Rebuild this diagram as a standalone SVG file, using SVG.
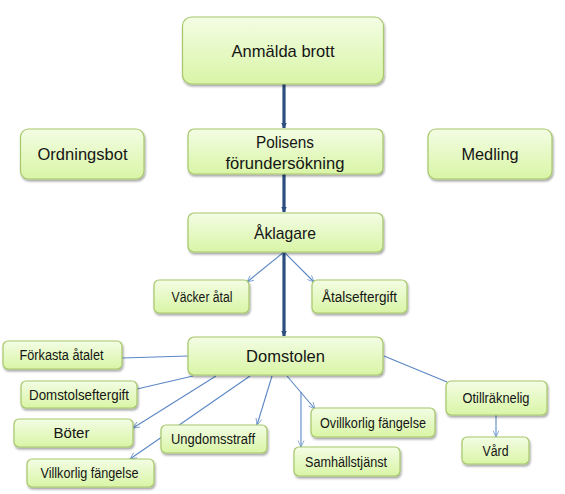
<svg xmlns="http://www.w3.org/2000/svg" width="565" height="494" viewBox="0 0 565 494">
<defs>
<linearGradient id="g" x1="0" y1="0" x2="0" y2="1">
<stop offset="0" stop-color="#f3fde4"/>
<stop offset="1" stop-color="#d9f5a6"/>
</linearGradient>
<filter id="sh" x="-10%" y="-10%" width="125%" height="140%">
<feDropShadow dx="1" dy="2" stdDeviation="1.3" flood-color="#000" flood-opacity="0.35"/>
</filter>
<marker id="ta" viewBox="0 0 6 6" refX="5.5" refY="3" markerWidth="6" markerHeight="6" markerUnits="userSpaceOnUse" orient="auto">
<path d="M0,0 L6,3 L0,6 Z" fill="#2c4d80"/>
</marker>
<marker id="oa" viewBox="0 0 8 8" refX="7.5" refY="4" markerWidth="8" markerHeight="8" markerUnits="userSpaceOnUse" orient="auto">
<path d="M1,1 L7.5,4 L1,7" fill="none" stroke="#6d95cc" stroke-width="0.8"/>
</marker>
</defs>
<style>
.box{fill:url(#g);stroke:#a6c76a;stroke-width:1.2;filter:url(#sh)}
.t{font-family:"Liberation Sans",Arial,sans-serif;fill:#151515;text-anchor:middle}
.L{font-size:17px}
.S{font-size:13.8px}
.thick{stroke:#2c4d80;stroke-width:3.2;fill:none}
.thin{stroke:#5b87c5;stroke-width:1.1;fill:none}
</style>
<g id="connectors">
<line class="thick" x1="284" y1="84" x2="284" y2="128" marker-end="url(#ta)"/>
<line class="thick" x1="284" y1="174" x2="284" y2="212" marker-end="url(#ta)"/>
<line class="thick" x1="284" y1="252" x2="284" y2="336" marker-end="url(#ta)"/>
<line class="thin" x1="284" y1="252" x2="247" y2="282" marker-end="url(#oa)"/>
<line class="thin" x1="284" y1="252" x2="314" y2="282" marker-end="url(#oa)"/>
<line class="thin" x1="188" y1="356" x2="122" y2="358"/>
<line class="thin" x1="193" y1="376" x2="137" y2="389"/>
<line class="thin" x1="216" y1="376" x2="133" y2="428" marker-end="url(#oa)"/>
<line class="thin" x1="250" y1="376" x2="130" y2="459" marker-end="url(#oa)"/>
<line class="thin" x1="272" y1="376" x2="257" y2="425" marker-end="url(#oa)"/>
<line class="thin" x1="287" y1="376" x2="315" y2="409" marker-end="url(#oa)"/>
<line class="thin" x1="301" y1="392" x2="301" y2="447" marker-end="url(#oa)"/>
<line class="thin" x1="384" y1="356" x2="447" y2="382"/>
<line class="thin" x1="496" y1="415" x2="496" y2="437" marker-end="url(#oa)"/>
</g>
<g id="anmalda"><rect class="box" x="182.5" y="17" width="201" height="67" rx="9"/><text class="t L" x="283" y="57" textLength="103" lengthAdjust="spacingAndGlyphs">Anmälda brott</text></g>
<g id="polisens"><rect class="box" x="188" y="129" width="195" height="45" rx="6"/><text class="t L" x="285" y="148" textLength="58" lengthAdjust="spacingAndGlyphs">Polisens</text><text class="t L" x="285" y="169" textLength="119" lengthAdjust="spacingAndGlyphs">förundersökning</text></g>
<g id="ordningsbot"><rect class="box" x="20.5" y="129" width="123.5" height="50" rx="8"/><text class="t L" x="82.5" y="160" textLength="90" lengthAdjust="spacingAndGlyphs">Ordningsbot</text></g>
<g id="medling"><rect class="box" x="428" y="129" width="124" height="50" rx="8"/><text class="t L" x="490" y="160" textLength="57" lengthAdjust="spacingAndGlyphs">Medling</text></g>
<g id="aklagare"><rect class="box" x="188" y="213" width="195" height="39" rx="6"/><text class="t L" x="285" y="239" textLength="62" lengthAdjust="spacingAndGlyphs">Åklagare</text></g>
<g id="vacker"><rect class="box" x="154" y="280" width="95" height="33" rx="5"/><text class="t S" x="202" y="301.5" textLength="61" lengthAdjust="spacingAndGlyphs">Väcker åtal</text></g>
<g id="atalseftergift"><rect class="box" x="312" y="280" width="95" height="33" rx="5"/><text class="t S" x="359.5" y="301.5" textLength="75" lengthAdjust="spacingAndGlyphs">Åtalseftergift</text></g>
<g id="domstolen"><rect class="box" x="188" y="337" width="195" height="38" rx="6"/><text class="t L" x="285.5" y="362" textLength="79" lengthAdjust="spacingAndGlyphs">Domstolen</text></g>
<g id="forkasta"><rect class="box" x="3" y="341" width="119" height="28" rx="5"/><text class="t S" x="61.5" y="360" textLength="84" lengthAdjust="spacingAndGlyphs">Förkasta åtalet</text></g>
<g id="domstolseftergift"><rect class="box" x="21" y="381" width="116" height="27" rx="5"/><text class="t S" x="79" y="399.5" textLength="100" lengthAdjust="spacingAndGlyphs">Domstolseftergift</text></g>
<g id="boter"><rect class="box" x="14" y="419" width="119" height="28" rx="5"/><text class="t S" x="71.5" y="438" textLength="36" lengthAdjust="spacingAndGlyphs">Böter</text></g>
<g id="villkorlig"><rect class="box" x="27" y="459" width="127" height="28" rx="5"/><text class="t S" x="89.5" y="477.5" textLength="98" lengthAdjust="spacingAndGlyphs">Villkorlig fängelse</text></g>
<g id="ungdomsstraff"><rect class="box" x="161" y="425" width="106" height="28" rx="5"/><text class="t S" x="213" y="443.5" textLength="84" lengthAdjust="spacingAndGlyphs">Ungdomsstraff</text></g>
<g id="ovillkorlig"><rect class="box" x="311" y="408" width="124" height="29" rx="5"/><text class="t S" x="373" y="427.5" textLength="106" lengthAdjust="spacingAndGlyphs">Ovillkorlig fängelse</text></g>
<g id="samhallstjanst"><rect class="box" x="294" y="447" width="106" height="29" rx="5"/><text class="t S" x="346" y="466.5" textLength="82" lengthAdjust="spacingAndGlyphs">Samhällstjänst</text></g>
<g id="otillraknelig"><rect class="box" x="446" y="381" width="101" height="34" rx="5"/><text class="t S" x="496" y="402.5" textLength="67" lengthAdjust="spacingAndGlyphs">Otillräknelig</text></g>
<g id="vard"><rect class="box" x="462" y="437" width="67" height="27" rx="5"/><text class="t S" x="495.5" y="455.5" textLength="26" lengthAdjust="spacingAndGlyphs">Vård</text></g>
</svg>
